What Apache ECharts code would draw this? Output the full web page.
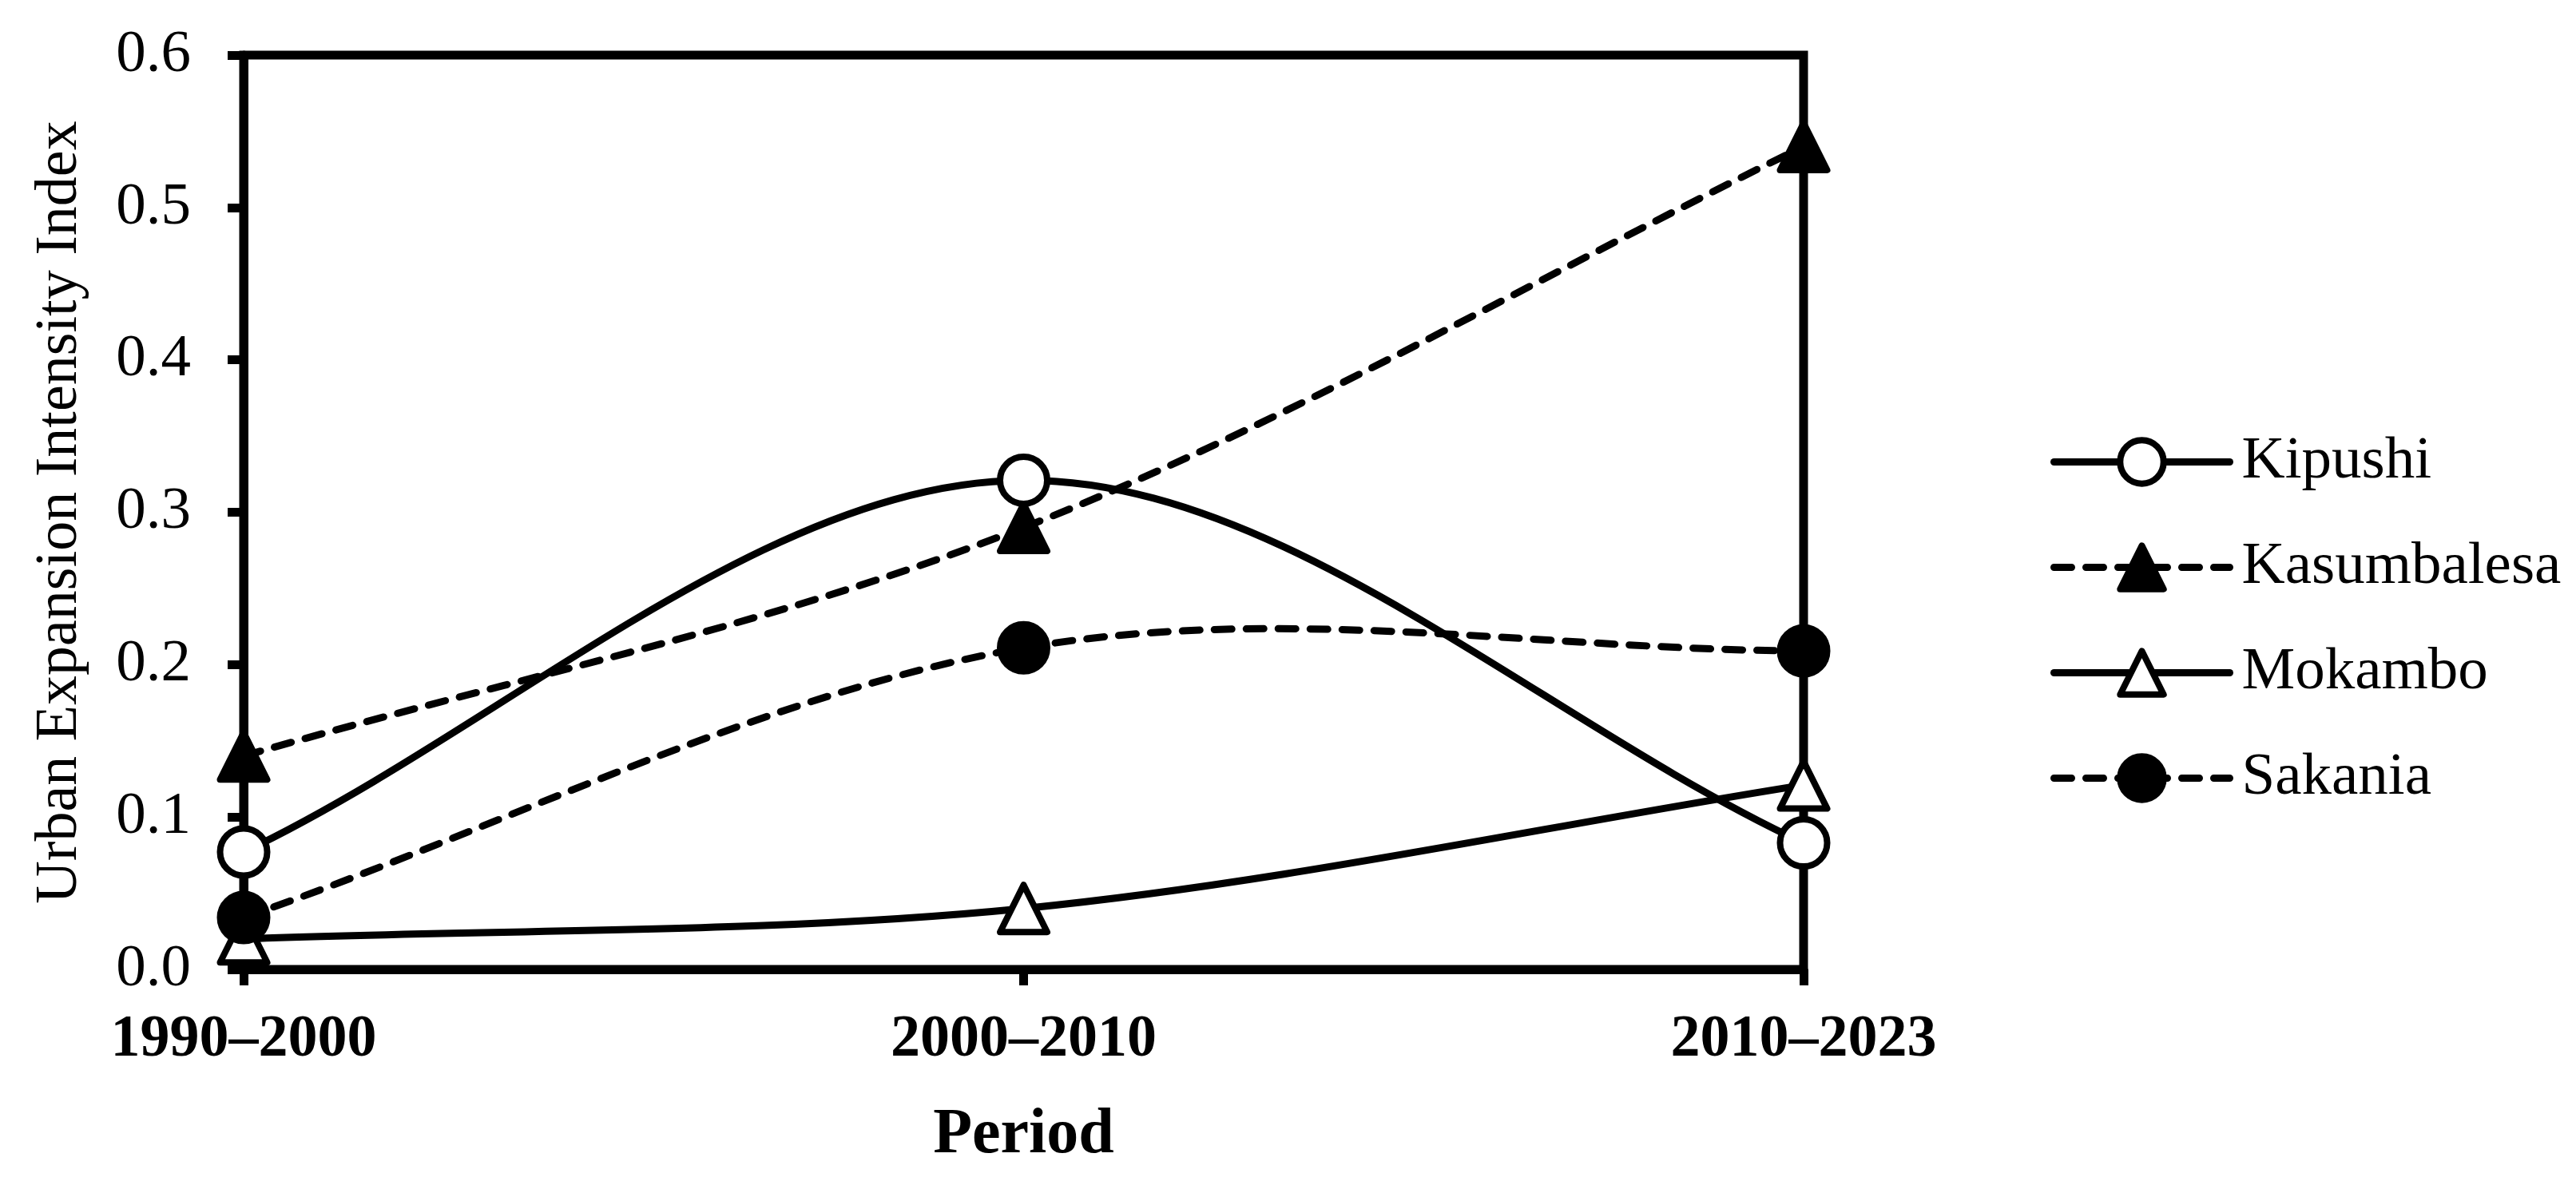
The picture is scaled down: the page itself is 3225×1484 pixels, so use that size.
<!DOCTYPE html>
<html>
<head>
<meta charset="utf-8">
<script src="https://cdn.jsdelivr.net/npm/echarts@6/dist/echarts.min.js"></script>
<style>
html,body{margin:0;padding:0;background:#fff;}
#chart{width:3225px;height:1484px;}
</style>
</head>
<body>
<div id="chart"></div>
<script>
const categories = ['1990–2000', '2000–2010', '2010–2023'];
const kipushi = [0.077, 0.321, 0.083];
const kasumbalesa = [0.140, 0.290, 0.540];
const mokambo = [0.020, 0.040, 0.121];
const sakania = [0.034, 0.211, 0.209];
const yTicks = [0, 0.1, 0.2, 0.3, 0.4, 0.5, 0.6];

const FONT = 'Liberation Serif';
const LW = 9;
const DASH = [22, 18];

// Smoothed curve (Catmull-Rom style Bezier, like spreadsheet smoothed lines),
// drawn through the axes' own coordinate mapping.
function curve(arr, dashed) {
  return {
    type: 'custom',
    name: '_curve',
    data: arr.map((v, i) => [i, v]),
    encode: { x: 0, y: 1 },
    z: 2,
    silent: true,
    clip: false,
    renderItem: function (params, api) {
      const i = params.dataIndex;
      if (i >= arr.length - 1) return null;
      const P = arr.map((v, k) => api.coord([k, v]));
      const a = P[i], b = P[i + 1];
      const pm = i > 0 ? P[i - 1] : [2 * a[0] - b[0], 2 * a[1] - b[1]];
      const pn = i + 2 < P.length ? P[i + 2] : [2 * b[0] - a[0], 2 * b[1] - a[1]];
      return {
        type: 'bezierCurve',
        shape: {
          x1: a[0], y1: a[1], x2: b[0], y2: b[1],
          cpx1: a[0] + (b[0] - pm[0]) / 6, cpy1: a[1] + (b[1] - pm[1]) / 6,
          cpx2: b[0] - (pn[0] - a[0]) / 6, cpy2: b[1] - (pn[1] - a[1]) / 6
        },
        style: { stroke: '#000', fill: 'none', lineWidth: LW, lineDash: dashed ? DASH : null, lineCap: 'round', lineJoin: 'round' }
      };
    }
  };
}

function markers(name, data, opts) {
  return {
    name: name,
    type: 'line',
    data: data,
    symbol: opts.symbol,
    symbolSize: 59,
    z: opts.z,
    lineStyle: { opacity: 0, width: 0 },
    itemStyle: { color: opts.filled ? '#000' : '#fff', borderColor: '#000', borderWidth: 8, borderJoin: 'round' },
    emphasis: { disabled: true }
  };
}

function legendItem(name, dashed) {
  return {
    name: name,
    lineStyle: { color: '#000', width: LW, type: dashed ? DASH : 'solid', opacity: 1, cap: 'round' },
    itemStyle: { borderColor: '#000', borderWidth: 8 }
  };
}

const chart = echarts.init(document.getElementById('chart'), null, { renderer: 'canvas' });
chart.setOption({
  backgroundColor: '#fff',
  animation: false,
  textStyle: { fontFamily: FONT, color: '#000' },
  grid: { left: 305, right: 967, top: 69, bottom: 270, show: true, borderColor: '#000', borderWidth: 11, backgroundColor: 'transparent' },
  legend: {
    orient: 'vertical',
    left: 2562,
    top: 536,
    itemWidth: 220,
    itemHeight: 68,
    itemGap: 57,
    textStyle: { fontFamily: FONT, fontSize: 75, color: '#000', padding: [0, 0, 0, 10] },
    data: [
      legendItem('Kipushi', false),
      legendItem('Kasumbalesa', true),
      legendItem('Mokambo', false),
      legendItem('Sakania', true)
    ]
  },
  xAxis: {
    type: 'category',
    data: categories,
    boundaryGap: false,
    name: 'Period',
    nameLocation: 'middle',
    nameGap: 168,
    nameTextStyle: { fontFamily: FONT, fontSize: 80, fontWeight: 'bold', color: '#000' },
    axisLine: { lineStyle: { color: '#000', width: 11 } },
    axisTick: { show: true, length: 20, lineStyle: { color: '#000', width: 11 } },
    axisLabel: { fontFamily: FONT, fontSize: 74, fontWeight: 'bold', color: '#000', margin: 52 },
    splitLine: { show: false }
  },
  yAxis: {
    type: 'value',
    min: yTicks[0],
    max: yTicks[yTicks.length - 1],
    interval: 0.1,
    name: 'Urban Expansion Intensity Index',
    nameLocation: 'middle',
    nameGap: 192,
    nameTextStyle: { fontFamily: FONT, fontSize: 74, color: '#000' },
    axisLine: { show: true, lineStyle: { color: '#000', width: 11 } },
    axisTick: { show: true, length: 20, lineStyle: { color: '#000', width: 11 } },
    axisLabel: { fontFamily: FONT, fontSize: 75, color: '#000', margin: 66, formatter: v => v.toFixed(1) },
    splitLine: { show: false }
  },
  series: [
    curve(mokambo, false),
    curve(kasumbalesa, true),
    curve(kipushi, false),
    curve(sakania, true),
    markers('Kipushi', kipushi, { symbol: 'circle', filled: false, z: 5 }),
    markers('Kasumbalesa', kasumbalesa, { symbol: 'triangle', filled: true, z: 4 }),
    markers('Mokambo', mokambo, { symbol: 'triangle', filled: false, z: 3 }),
    markers('Sakania', sakania, { symbol: 'circle', filled: true, z: 6 })
  ]
});
</script>
</body>
</html>
